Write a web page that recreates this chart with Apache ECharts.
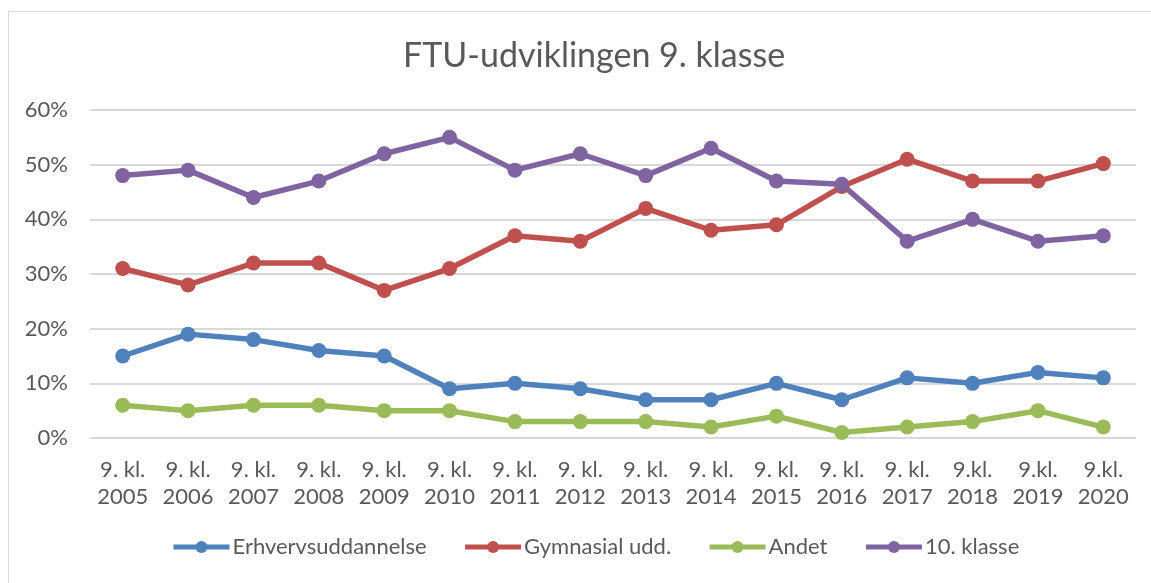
<!DOCTYPE html>
<html>
<head>
<meta charset="utf-8">
<script src="https://cdn.jsdelivr.net/npm/echarts@6/dist/echarts.min.js"></script>
<style>
  html, body { margin: 0; padding: 0; background: #fff; }
  #main { width: 1151px; height: 583px; }
</style>
</head>
<body>
<div id="main"></div>
<script>
var years = ['9. kl.\n2005', '9. kl.\n2006', '9. kl.\n2007', '9. kl.\n2008', '9. kl.\n2009',
  '9. kl.\n2010', '9. kl.\n2011', '9. kl.\n2012', '9. kl.\n2013', '9. kl.\n2014',
  '9. kl.\n2015', '9. kl.\n2016', '9. kl.\n2017', '9.kl.\n2018', '9.kl.\n2019', '9.kl.\n2020'];
var erhverv = [15, 19, 18, 16, 15, 9, 10, 9, 7, 7, 10, 7, 11, 10, 12, 11];
var gymnasial = [31, 28, 32, 32, 27, 31, 37, 36, 42, 38, 39, 46, 51, 47, 47, 50.2];
var andet = [6, 5, 6, 6, 5, 5, 3, 3, 3, 2, 4, 1, 2, 3, 5, 2];
var tiendeKlasse = [48, 49, 44, 47, 52, 55, 49, 52, 48, 53, 47, 46.4, 36, 40, 36, 37];

var myChart = echarts.init(document.getElementById('main'));
var font = 'Lato, "Open Sans", sans-serif';

function serie(name, data, color) {
  return {
    name: name,
    type: 'line',
    data: data,
    symbol: 'circle',
    symbolSize: 15,
    lineStyle: { width: 5.5, color: color },
    itemStyle: { color: color },
    animation: false
  };
}

var option = {
  backgroundColor: '#fff',
  textStyle: { fontFamily: font },
  graphic: [{
    type: 'rect',
    shape: { x: 8.5, y: 11.5, width: 1160, height: 600 },
    style: { fill: 'none', stroke: '#d9d9d9', lineWidth: 1 },
    silent: true
  }],
  title: {
    text: 'FTU-udviklingen 9. klasse',
    left: 398,
    top: 34,
    textStyle: { fontSize: 34, fontWeight: 'normal', color: '#595959', fontFamily: font }
  },
  legend: {
    bottom: 20,
    left: 166,
    itemWidth: 56,
    itemHeight: 15,
    itemGap: 36,
    lineStyle: { width: 5 },
    textStyle: { fontSize: 22, color: '#595959', fontFamily: font, padding: [0, 0, 0, -2] },
    data: ['Erhvervsuddannelse', 'Gymnasial udd.', 'Andet', '10. klasse']
  },
  grid: { left: 90, right: 15, top: 110, bottom: 145, containLabel: false },
  xAxis: {
    type: 'category',
    data: years,
    boundaryGap: true,
    axisLine: { show: false },
    axisTick: { show: false },
    axisLabel: { fontSize: 22, color: '#595959', lineHeight: 27, margin: 18, fontFamily: font, interval: 0 }
  },
  yAxis: {
    type: 'value',
    min: 0,
    max: 60,
    interval: 10,
    axisLine: { show: false },
    axisTick: { show: false },
    splitLine: { lineStyle: { color: '#d9d9d9', width: 2 } },
    axisLabel: { fontSize: 22, color: '#595959', margin: 22, formatter: '{value}%', fontFamily: font }
  },
  series: [
    serie('Erhvervsuddannelse', erhverv, '#4f81bd'),
    serie('Gymnasial udd.', gymnasial, '#c0504d'),
    serie('Andet', andet, '#9bbb59'),
    serie('10. klasse', tiendeKlasse, '#8064a2')
  ]
};

option && myChart.setOption(option);
</script>
</body>
</html>
